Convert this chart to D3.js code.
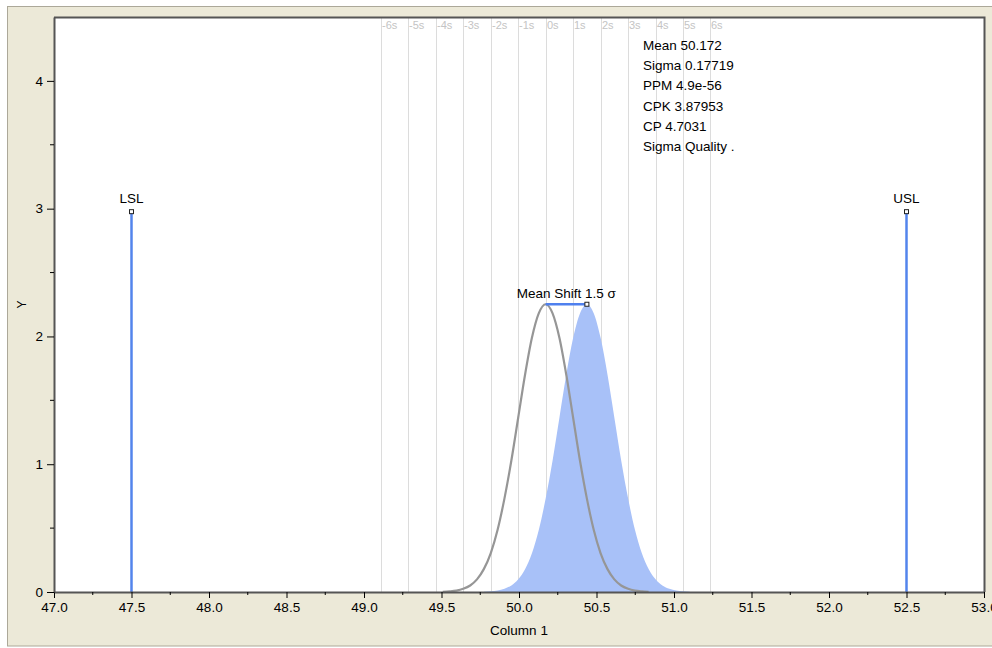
<!DOCTYPE html>
<html>
<head>
<meta charset="utf-8">
<script src="https://cdn.jsdelivr.net/npm/d3@7"></script>
<style>
  body { margin: 0; background: #fff; }
  text { font-family: "Liberation Sans", Arial, sans-serif; }
</style>
</head>
<body>
<svg id="chart" width="992" height="648"></svg>
<script>
// ---- data ----
const xTickValues = [47.0, 47.5, 48.0, 48.5, 49.0, 49.5, 50.0, 50.5, 51.0, 51.5, 52.0, 52.5, 53.0];
const yTickValues = [0, 1, 2, 3, 4];

const sigmaLabels = ['-6s', '-5s', '-4s', '-3s', '-2s', '-1s', '0s', '1s', '2s', '3s', '4s', '5s', '6s'];
const sigmaPositions = [49.109, 49.286, 49.463, 49.640, 49.818, 49.995, 50.172, 50.349, 50.526, 50.704, 50.881, 51.058, 51.235];

const specLabels = ['LSL', 'USL'];
const specValues = [47.5, 52.5];
const specHeight = 3;

// process curve (gray outline)
const processX = [49.508, 49.552, 49.596, 49.640, 49.685, 49.729, 49.773, 49.818, 49.862, 49.906, 49.951, 49.995,
  50.039, 50.083, 50.128, 50.172, 50.216, 50.261, 50.305, 50.349, 50.393, 50.438, 50.482, 50.526, 50.571,
  50.615, 50.659, 50.704, 50.748, 50.792, 50.836];
const processY = [0.002, 0.005, 0.011, 0.025, 0.051, 0.099, 0.179, 0.305, 0.487, 0.731, 1.031, 1.366,
  1.700, 1.987, 2.182, 2.252, 2.182, 1.987, 1.700, 1.366, 1.031, 0.731, 0.487, 0.305, 0.179,
  0.099, 0.051, 0.025, 0.011, 0.005, 0.002];

// shifted curve (blue fill)
const shiftedX = [49.774, 49.818, 49.862, 49.906, 49.951, 49.995, 50.039, 50.084, 50.128, 50.172, 50.217, 50.261,
  50.305, 50.349, 50.394, 50.438, 50.482, 50.527, 50.571, 50.615, 50.659, 50.704, 50.748, 50.792, 50.837,
  50.881, 50.925, 50.970, 51.014, 51.058, 51.102];
const shiftedY = processY;

const meanShiftFrom = 50.172;
const meanShiftTo = 50.438;
const meanShiftLevel = 2.252;
const meanShiftLabel = 'Mean Shift 1.5 σ';

const statsLines = ['Mean 50.172', 'Sigma 0.17719', 'PPM 4.9e-56', 'CPK 3.87953', 'CP 4.7031', 'Sigma Quality .'];

// ---- layout ----
const plot = { left: 54, top: 17, right: 984, bottom: 592 };
const svg = d3.select('#chart');

// beige panel
svg.append('rect')
  .attr('x', 7.5).attr('y', 6.5).attr('width', 995).attr('height', 639.5)
  .attr('fill', '#ece9d8').attr('stroke', '#aca899');

const x = d3.scaleLinear().domain([47, 53]).range([plot.left, plot.right]);
const y = d3.scaleLinear().domain([0, 4.5]).range([plot.bottom, plot.top]);

// plot background
svg.append('rect')
  .attr('x', plot.left).attr('y', plot.top)
  .attr('width', plot.right - plot.left).attr('height', plot.bottom - plot.top)
  .attr('fill', '#fff');

// sigma reference lines
const sig = svg.append('g');
sig.selectAll('line').data(sigmaPositions).join('line')
  .attr('x1', d => Math.round(x(d)) + 0.5).attr('x2', d => Math.round(x(d)) + 0.5)
  .attr('y1', plot.top).attr('y2', plot.bottom)
  .attr('stroke', '#dcdcdc').attr('stroke-width', 1);
sig.selectAll('text').data(sigmaPositions).join('text')
  .attr('x', d => Math.round(x(d)) + 1)
  .attr('y', 29)
  .attr('font-size', 11)
  .attr('fill', '#c4c4c4')
  .text((d, i) => sigmaLabels[i]);

// shifted curve (filled)
const shifted = shiftedX.map((v, i) => [v, shiftedY[i]]);
svg.append('path')
  .datum(shifted)
  .attr('d', d3.area().x(d => x(d[0])).y0(y(0)).y1(d => y(d[1])).curve(d3.curveMonotoneX))
  .attr('fill', '#a8c1f8');

// process curve (outline)
const processPts = processX.map((v, i) => [v, processY[i]]);
svg.append('path')
  .datum(processPts)
  .attr('d', d3.line().x(d => x(d[0])).y(d => y(d[1])).curve(d3.curveMonotoneX))
  .attr('fill', 'none')
  .attr('stroke', '#969696')
  .attr('stroke-width', 2.2);

// spec limits
const spec = svg.append('g');
spec.selectAll('line').data(specValues).join('line')
  .attr('x1', d => x(d)).attr('x2', d => x(d))
  .attr('y1', y(0)).attr('y2', y(specHeight) + 2)
  .attr('stroke', '#5384ec').attr('stroke-width', 2.5);
spec.selectAll('rect').data(specValues).join('rect')
  .attr('x', d => x(d) - 2).attr('y', y(specHeight) + 1)
  .attr('width', 4).attr('height', 4)
  .attr('fill', '#fff').attr('stroke', '#222').attr('stroke-width', 1);
spec.selectAll('text').data(specValues).join('text')
  .attr('x', d => x(d)).attr('y', y(specHeight) - 6)
  .attr('text-anchor', 'middle').attr('font-size', 13.5).attr('fill', '#000')
  .text((d, i) => specLabels[i]);

// mean shift
svg.append('line')
  .attr('x1', x(meanShiftFrom)).attr('x2', x(meanShiftTo))
  .attr('y1', y(meanShiftLevel)).attr('y2', y(meanShiftLevel))
  .attr('stroke', '#4f80ee').attr('stroke-width', 2.5);
svg.append('rect')
  .attr('x', x(meanShiftTo) - 2).attr('y', y(meanShiftLevel) - 2)
  .attr('width', 4).attr('height', 4)
  .attr('fill', '#fff').attr('stroke', '#222').attr('stroke-width', 1);
svg.append('text')
  .attr('x', (x(meanShiftFrom) + x(meanShiftTo)) / 2)
  .attr('y', y(meanShiftLevel) - 6)
  .attr('text-anchor', 'middle').attr('font-size', 13.5).attr('fill', '#000')
  .text(meanShiftLabel);

// stats block
svg.append('g').selectAll('text').data(statsLines).join('text')
  .attr('x', 643)
  .attr('y', (d, i) => 50 + i * 20.2)
  .attr('font-size', 13.5).attr('fill', '#000')
  .text(d => d);

// plot border (top / right)
svg.append('path')
  .attr('d', `M${plot.left},${plot.top + 0.5}H${plot.right + 0.5}V${plot.bottom}`)
  .attr('fill', 'none').attr('stroke', '#555').attr('stroke-width', 2);

// x axis
const xAxis = svg.append('g').attr('transform', `translate(0,${plot.bottom})`);
xAxis.call(d3.axisBottom(x).tickValues(xTickValues).tickFormat(d3.format('.1f')).tickSize(6).tickSizeOuter(0));
xAxis.append('g').selectAll('line')
  .data(d3.range(47.25, 53, 0.5))
  .join('line')
  .attr('x1', d => x(d)).attr('x2', d => x(d)).attr('y1', 0).attr('y2', 3)
  .attr('stroke', '#000');

// y axis
const yAxis = svg.append('g').attr('transform', `translate(${plot.left},0)`);
yAxis.call(d3.axisLeft(y).tickValues(yTickValues).tickFormat(d3.format('d')).tickSize(7).tickSizeOuter(0));
yAxis.append('g').selectAll('line')
  .data([0.5, 1.5, 2.5, 3.5])
  .join('line')
  .attr('x1', -4).attr('x2', 0).attr('y1', d => y(d)).attr('y2', d => y(d))
  .attr('stroke', '#000');

[xAxis, yAxis].forEach(g => {
  g.select('.domain').attr('stroke', '#555').attr('stroke-width', 2);
  g.selectAll('text').attr('font-family', '"Liberation Sans", Arial, sans-serif').attr('font-size', 13.5).attr('fill', '#000');
});
xAxis.selectAll('.tick text').attr('dy', '0.85em');
yAxis.selectAll('.tick text').attr('dx', '-1px');

// axis titles
svg.append('text')
  .attr('x', (plot.left + plot.right) / 2)
  .attr('y', 635)
  .attr('text-anchor', 'middle').attr('font-size', 13.5).attr('fill', '#000')
  .text('Column 1');
svg.append('text')
  .attr('transform', `translate(26,${(plot.top + plot.bottom) / 2}) rotate(-90)`)
  .attr('text-anchor', 'middle').attr('font-size', 12).attr('fill', '#000')
  .text('Y');
</script>
</body>
</html>
